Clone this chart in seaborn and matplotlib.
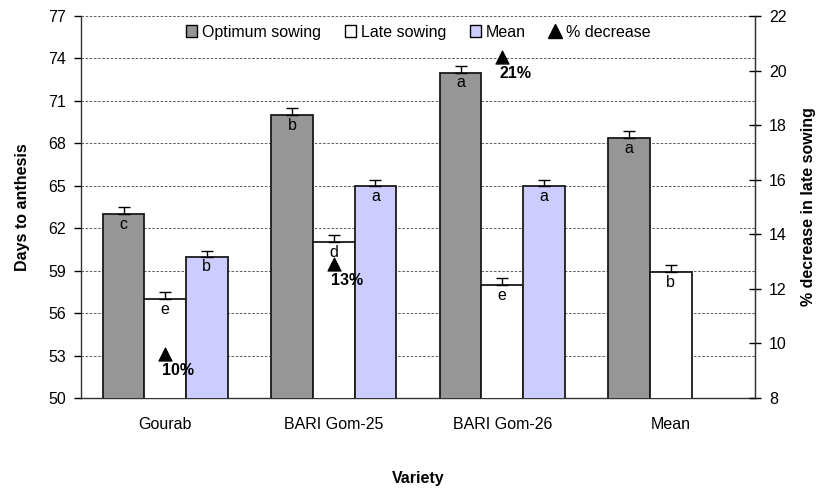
import matplotlib
matplotlib.use("Agg")
import matplotlib.pyplot as plt
import seaborn as sns
import pandas as pd
import numpy as np
from matplotlib.patches import Patch
from matplotlib.lines import Line2D

varieties = ["Gourab", "BARI Gom-25", "BARI Gom-26", "Mean"]
series = ["Optimum sowing", "Late sowing", "Mean"]
optimum = [63.0, 70.0, 73.0, 68.4]
late = [57.0, 61.0, 58.0, 58.9]
mean_vals = [60.0, 65.0, 65.0]
opt_err = [0.5, 0.5, 0.5, 0.5]
late_err = [0.5, 0.5, 0.5, 0.5]
mean_err = [0.4, 0.4, 0.4]
opt_letters = ["c", "b", "a", "a"]
late_letters = ["e", "d", "e", "b"]
mean_letters = ["b", "a", "a"]
pct_decrease = [9.6, 12.9, 20.5]
pct_labels = ["10%", "13%", "21%"]

colors = {"Optimum sowing": "#969696", "Late sowing": "#FFFFFF", "Mean": "#CCCCFF"}

rows = []
for i, v in enumerate(varieties):
    rows.append(dict(variety=v, series="Optimum sowing", value=optimum[i], err=opt_err[i], letter=opt_letters[i]))
    rows.append(dict(variety=v, series="Late sowing", value=late[i], err=late_err[i], letter=late_letters[i]))
    if i < len(mean_vals):
        rows.append(dict(variety=v, series="Mean", value=mean_vals[i], err=mean_err[i], letter=mean_letters[i]))
df = pd.DataFrame(rows)

sns.set_style("white")
plt.rcParams["font.family"] = ["Liberation Sans", "DejaVu Sans"]
plt.rcParams["text.color"] = "black"
plt.rcParams["axes.labelcolor"] = "black"
plt.rcParams["xtick.color"] = "black"
plt.rcParams["ytick.color"] = "black"
FS = 11.5

fig = plt.figure(figsize=(8.23, 4.90), dpi=100)
ax = fig.add_axes([81 / 823, 1 - 398 / 490, (755 - 81) / 823, (398 - 16) / 490])

sns.barplot(data=df, x="variety", y="value", hue="series", order=varieties,
            hue_order=series, palette=colors, width=0.74, errorbar=None, saturation=1,
            edgecolor="#1a1a1a", linewidth=1.3, ax=ax, legend=False, zorder=3)

# error bars and letters
for cont, s in zip(ax.containers, series):
    sub = df[df.series == s].set_index("variety").reindex(varieties)
    for bar, (_, r) in zip(cont, sub.iterrows()):
        if pd.isna(r["value"]):
            continue
        xc = bar.get_x() + bar.get_width() / 2
        top = bar.get_height() + bar.get_y()
        ax.errorbar(xc, top, yerr=[[0], [r["err"]]], fmt="none", ecolor="black",
                    elinewidth=1.0, capsize=4, capthick=1.0, zorder=4)
        ax.text(xc, top - 0.2, r["letter"], ha="center", va="top", fontsize=FS, zorder=5)

ax.set_ylim(50, 77)
ax.set_yticks(np.arange(50, 78, 3))
ax.set_xlim(-0.5, 3.5)
ax.yaxis.grid(True, linestyle=(0, (3, 2)), color="#444444", linewidth=0.6)
ax.set_axisbelow(True)
ax.set_xticks(range(len(varieties)))
ax.set_xticklabels(varieties, fontsize=FS)
ax.set_xticks(np.arange(-0.5, 3.6, 1), minor=True)
ax.tick_params(axis="x", which="major", length=0, pad=14)
ax.tick_params(axis="x", which="minor", length=5, direction="out", width=1)
ax.tick_params(axis="y", length=5, direction="out", width=1, labelsize=FS, left=True, pad=6)
for sp in ["left", "bottom", "right"]:
    ax.spines[sp].set_color("#333333")
    ax.spines[sp].set_linewidth(1.0)
ax.spines["top"].set_visible(False)
ax.set_xlabel("Variety", fontweight="bold", fontsize=FS)
ax.xaxis.set_label_coords(0.5, -0.19)
ax.set_ylabel("Days to anthesis", fontweight="bold", fontsize=FS, labelpad=13)

ax2 = ax.twinx()
ax2.set_ylim(8, 22)
ax2.set_yticks(np.arange(8, 23, 2))
ax2.tick_params(axis="y", length=8, direction="inout", width=1, labelsize=FS, right=True, pad=6)
ax2.spines["top"].set_visible(False)
ax2.spines["left"].set_visible(False)
ax2.spines["bottom"].set_visible(False)
ax2.spines["right"].set_color("#333333")
xpos = list(range(len(pct_decrease)))
sns.scatterplot(x=xpos, y=pct_decrease, marker="^", color="black", s=90, ax=ax2,
                legend=False, zorder=6, edgecolor="black")
for x, y, lab in zip(xpos, pct_decrease, pct_labels):
    ax2.annotate(lab, (x, y), xytext=(-3, -9), textcoords="offset pixels",
                 ha="left", va="top", fontsize=FS, fontweight="bold")
ax2.set_ylabel("% decrease in late sowing", fontweight="bold", fontsize=FS, labelpad=10)
ax2.set_xlim(-0.5, 3.5)

handles = [Patch(facecolor=colors[s], edgecolor="black", linewidth=1.0) for s in series]
handles.append(Line2D([], [], marker="^", color="black", linestyle="none", markersize=10))
ax2.legend(handles, ["Optimum sowing", "Late sowing", "Mean", "% decrease"], loc="upper center",
           bbox_to_anchor=(0.5, 1.015), ncol=4, frameon=False, fontsize=FS,
           handlelength=0.7, handleheight=0.7, handletextpad=0.3, columnspacing=1.5)

fig.savefig("out.png", dpi=100)
